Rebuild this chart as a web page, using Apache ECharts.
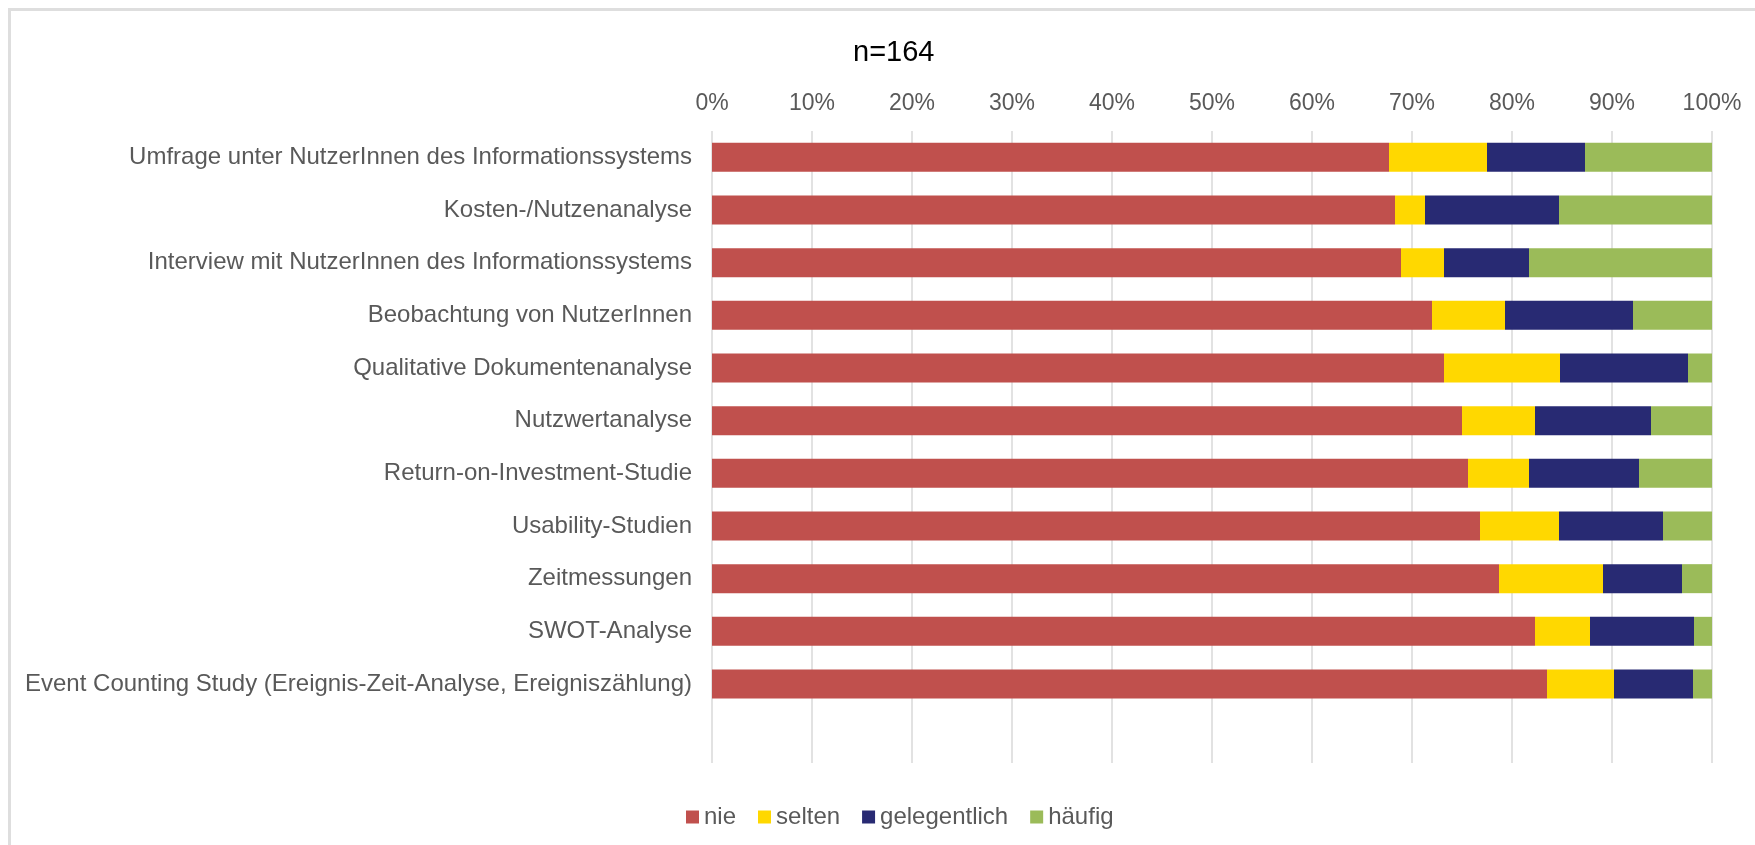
<!DOCTYPE html>
<html>
<head>
<meta charset="utf-8">
<title>Methoden</title>
<script src="https://cdn.jsdelivr.net/npm/echarts@6/dist/echarts.min.js"></script>
<style>
  html, body { margin: 0; padding: 0; background: #fff; overflow: hidden; }
  /* grauer Rahmen wie im Excel-Diagramm (rechts/unten abgeschnitten) */
  #frame {
    position: absolute; left: 8px; top: 8px;
    width: 1900px; height: 1000px;
    border: 3px solid #dedede; box-sizing: border-box;
  }
  #chart { position: absolute; left: 0; top: 0; width: 1755px; height: 845px; }
</style>
</head>
<body>
<div id="frame"></div>
<div id="chart"></div>
<script>
// Kategorien (letzte leer, wie im Original)
const categories = [
  'Umfrage unter NutzerInnen des Informationssystems',
  'Kosten-/Nutzenanalyse',
  'Interview mit NutzerInnen des Informationssystems',
  'Beobachtung von NutzerInnen',
  'Qualitative Dokumentenanalyse',
  'Nutzwertanalyse',
  'Return-on-Investment-Studie',
  'Usability-Studien',
  'Zeitmessungen',
  'SWOT-Analyse',
  'Event Counting Study (Ereignis-Zeit-Analyse, Ereigniszählung)',
  ''
]

// Anteile in Prozent (n=164)
const nie = [67.7, 68.3, 68.9, 72.0, 73.2, 75.0, 75.6, 76.8, 78.7, 82.3, 83.5]
const selten = [9.8, 3.0, 4.3, 7.3, 11.6, 7.3, 6.1, 7.9, 10.4, 5.5, 6.7]
const gelegentlich = [9.8, 13.4, 8.5, 12.8, 12.8, 11.6, 11.0, 10.4, 7.9, 10.4, 7.9]
const haeufig = [12.7, 15.3, 18.3, 7.9, 2.4, 6.1, 7.3, 4.9, 3.0, 1.8, 1.9]

const seriesNames = ['nie', 'selten', 'gelegentlich', 'häufig']
const seriesData = [nie, selten, gelegentlich, haeufig]
const colors = ['#C0504D', '#FFD800', '#282A73', '#9BBB59']

const font = 'Liberation Sans, Arial, sans-serif'

let chart = echarts.init(document.getElementById('chart'))

const option = {
  animation: false,
  title: {
    text: 'n=164',
    left: 848,
    top: 33,
    textStyle: { fontFamily: font, fontSize: 29, fontWeight: 'normal', color: '#000' }
  },
  legend: {
    data: seriesNames,
    left: 681,
    top: 800,
    icon: 'rect',
    itemWidth: 13,
    itemHeight: 13,
    itemGap: 22,
    textStyle: { fontFamily: font, fontSize: 24, color: '#595959' }
  },
  grid: { left: 712, right: 43, top: 131, bottom: 82 },
  xAxis: {
    type: 'value',
    position: 'top',
    min: 0,
    max: 100,
    interval: 10,
    axisLine: { show: false },
    axisTick: { show: false },
    axisLabel: {
      formatter: '{value}%',
      margin: 16,
      fontFamily: font,
      fontSize: 23,
      color: '#595959'
    },
    splitLine: { lineStyle: { color: '#d9d9d9', width: 1.5 } }
  },
  yAxis: {
    type: 'category',
    inverse: true,
    data: categories,
    axisLine: { show: false },
    axisTick: { show: false },
    axisLabel: {
      margin: 20,
      fontFamily: font,
      fontSize: 24,
      color: '#595959'
    }
  },
  series: seriesNames.map((name, i) => ({
    name: name,
    type: 'bar',
    stack: 'total',
    barWidth: 29,
    data: seriesData[i],
    itemStyle: { color: colors[i] }
  }))
}

chart.setOption(option)
</script>
</body>
</html>
